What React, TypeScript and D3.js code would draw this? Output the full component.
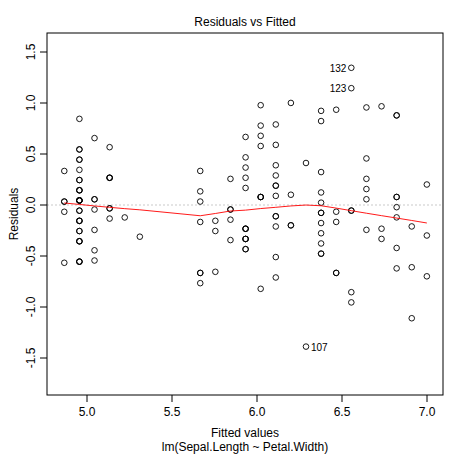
import React from "react";
import * as d3 from "d3";

const sepalLength = [5.1,4.9,4.7,4.6,5.0,5.4,4.6,5.0,4.4,4.9,5.4,4.8,4.8,4.3,5.8,5.7,5.4,5.1,5.7,5.1,5.4,5.1,4.6,5.1,4.8,5.0,5.0,5.2,5.2,4.7,4.8,5.4,5.2,5.5,4.9,5.0,5.5,4.9,4.4,5.1,5.0,4.5,4.4,5.0,5.1,4.8,5.1,4.6,5.3,5.0,
7.0,6.4,6.9,5.5,6.5,5.7,6.3,4.9,6.6,5.2,5.0,5.9,6.0,6.1,5.6,6.7,5.6,5.8,6.2,5.6,5.9,6.1,6.3,6.1,6.4,6.6,6.8,6.7,6.0,5.7,5.5,5.5,5.8,6.0,5.4,6.0,6.7,6.3,5.6,5.5,5.5,6.1,5.8,5.0,5.6,5.7,5.7,6.2,5.1,5.7,
6.3,5.8,7.1,6.3,6.5,7.6,4.9,7.3,6.7,7.2,6.5,6.4,6.8,5.7,5.8,6.4,6.5,7.7,7.7,6.0,6.9,5.6,7.7,6.3,6.7,7.2,6.2,6.1,6.4,7.2,7.4,7.9,6.4,6.3,6.1,7.7,6.3,6.4,6.0,6.9,6.7,6.9,5.8,6.8,6.7,6.7,6.3,6.5,6.2,5.9];
const petalWidth = [0.2,0.2,0.2,0.2,0.2,0.4,0.3,0.2,0.2,0.1,0.2,0.2,0.1,0.1,0.2,0.4,0.4,0.3,0.3,0.3,0.2,0.4,0.2,0.5,0.2,0.2,0.4,0.2,0.2,0.2,0.2,0.4,0.1,0.2,0.2,0.2,0.2,0.1,0.2,0.2,0.3,0.3,0.2,0.6,0.4,0.3,0.2,0.2,0.2,0.2,
1.4,1.5,1.5,1.3,1.5,1.3,1.6,1.0,1.3,1.4,1.0,1.5,1.0,1.4,1.3,1.4,1.5,1.0,1.5,1.1,1.8,1.3,1.5,1.2,1.3,1.4,1.4,1.7,1.5,1.0,1.1,1.0,1.2,1.6,1.5,1.6,1.5,1.3,1.3,1.3,1.2,1.4,1.2,1.0,1.3,1.2,1.3,1.3,1.1,1.3,
2.5,1.9,2.1,1.8,2.2,2.1,1.7,1.8,1.8,2.5,2.0,1.9,2.1,2.0,2.4,2.3,1.8,2.2,2.3,1.5,2.3,2.0,2.0,1.8,2.1,1.8,1.8,1.8,2.1,1.6,1.9,2.0,2.2,1.5,1.4,2.3,2.4,1.8,1.8,2.1,2.4,2.3,1.9,2.3,2.5,2.3,1.9,2.0,2.3,1.8];
const xTicks = [5.0, 5.5, 6.0, 6.5, 7.0];
const yTicks = [-1.5, -1.0, -0.5, 0.0, 0.5, 1.0, 1.5];
const labelledIds = [107, 132, 123];

// least squares fit (lm)
const n = sepalLength.length;
const mx = d3.mean(petalWidth)!, my = d3.mean(sepalLength)!;
let sxy = 0, sxx = 0;
for (let i = 0; i < n; i++) { sxy += (petalWidth[i]-mx)*(sepalLength[i]-my); sxx += (petalWidth[i]-mx)**2; }
const b1 = sxy/sxx, b0 = my - b1*mx;
const fitted = petalWidth.map(w => b0 + b1*w);
const resid = sepalLength.map((s, i) => s - fitted[i]);

function lowess(xs: number[], ys: number[], f = 2/3, iter = 3) {
  const idx = d3.range(xs.length).sort((a, b) => xs[a]-xs[b]);
  const x = idx.map(i => xs[i]), y = idx.map(i => ys[i]);
  const N = x.length, q = Math.max(2, Math.min(N, Math.floor(f*N+1e-7)));
  let rw = new Array(N).fill(1);
  let ysm = new Array(N).fill(0);
  for (let it = 0; it <= iter; it++) {
    for (let i = 0; i < N; i++) {
      const dist = x.map(v => Math.abs(v - x[i])).sort((a, b) => a-b);
      const h = Math.max(dist[q-1], 1e-12);
      let sw = 0, swx = 0, swy = 0, swxx = 0, swxy = 0;
      for (let j = 0; j < N; j++) {
        const r = Math.abs(x[j]-x[i])/h;
        if (r >= 0.999) continue;
        let w = r <= 0.001 ? 1 : (1 - r**3)**3;
        w *= rw[j];
        sw += w; swx += w*x[j]; swy += w*y[j]; swxx += w*x[j]*x[j]; swxy += w*x[j]*y[j];
      }
      const xb = swx/sw, yb = swy/sw, vx = swxx/sw - xb*xb;
      const b = vx > 1e-10 ? (swxy/sw - xb*yb)/vx : 0;
      ysm[i] = yb + b*(x[i]-xb);
    }
    if (it === iter) break;
    const res = y.map((v, i) => v - ysm[i]);
    const cmad = 6*d3.median(res.map(Math.abs))!;
    rw = res.map(r => { const u = Math.abs(r)/cmad; return u < 1 ? (1-u*u)**2 : 0; });
  }
  return x.map((v, i) => [v, ysm[i]] as [number, number]);
}
const smooth = lowess(fitted, resid);

export default function App() {
  const L = 47, R = 443, T = 33, B = 395;
  const xs = d3.scaleLinear().domain([5 - 40/170, 5 + 356/170]).range([L, R]);
  const ys = d3.scaleLinear().domain([-(395-205)/102, (205-33)/102]).range([B, T]);
  const font = "'Liberation Sans', Arial, sans-serif";
  const line = d3.line<[number, number]>().x(d => xs(d[0])).y(d => ys(d[1]));
  return (
    <svg width={466} height={471} style={{ position: "absolute", left: 0, top: 0 }} fontFamily={font}>
      <rect width={466} height={471} fill="white" />
      <line x1={L} x2={R} y1={ys(0)} y2={ys(0)} stroke="#bbb" strokeDasharray="2,2" strokeWidth={0.8} />
      {fitted.map((f, i) => (
        <circle key={i} cx={xs(f)} cy={ys(resid[i])} r={2.8} fill="none" stroke="black" strokeWidth={0.9} />
      ))}
      <path d={line(smooth)!} fill="none" stroke="red" strokeWidth={0.9} />
      {labelledIds.map(id => {
        const f = fitted[id-1], r = resid[id-1];
        const right = f < (xs.domain()[0] + xs.domain()[1]) / 2 + 0.5 && id === 107;
        return (
          <text key={id} x={xs(f) + (right ? 5 : -5)} y={ys(r) + 4} fontSize={10}
            textAnchor={right ? "start" : "end"}>{id}</text>
        );
      })}
      <rect x={L} y={T} width={R-L} height={B-T} fill="none" stroke="black" strokeWidth={1} />
      {xTicks.map(t => (
        <g key={t}>
          <line x1={xs(t)} x2={xs(t)} y1={B} y2={B+7} stroke="black" />
          <text x={xs(t)} y={B+21} fontSize={12} textAnchor="middle">{t.toFixed(1)}</text>
        </g>
      ))}
      {yTicks.map(t => (
        <g key={t}>
          <line x1={L} x2={L-7} y1={ys(t)} y2={ys(t)} stroke="black" />
          <text transform={`translate(${L-12},${ys(t)}) rotate(-90)`} fontSize={12} textAnchor="middle">{t.toFixed(1)}</text>
        </g>
      ))}
      <text x={(L+R)/2} y={26} fontSize={12} textAnchor="middle">Residuals vs Fitted</text>
      <text x={(L+R)/2} y={437} fontSize={12} textAnchor="middle">Fitted values</text>
      <text x={(L+R)/2} y={451} fontSize={12} textAnchor="middle">lm(Sepal.Length ~ Petal.Width)</text>
      <text transform={`translate(18,${(T+B)/2}) rotate(-90)`} fontSize={12} textAnchor="middle">Residuals</text>
    </svg>
  );
}
